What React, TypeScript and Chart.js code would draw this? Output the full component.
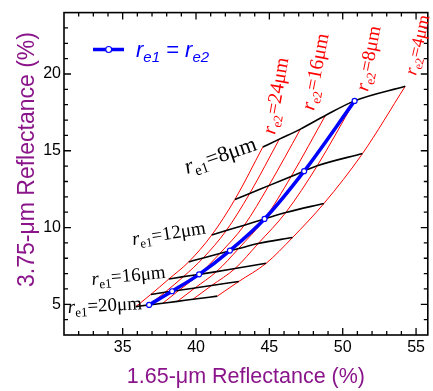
import React, { useEffect, useRef } from 'react';
import { Chart, registerables } from 'chart.js';

Chart.register(...registerables);

// r_e2 values along each r_e1 curve (left to right)
const re2Values = [24, 20, 16, 12, 8, 4];
// r_e1 values (top to bottom curves)
const re1Values = [8, 10, 12, 14, 16, 18, 20];

// 1.65-um reflectance (x) and 3.75-um reflectance (y) for each r_e1, ordered by re2Values
const x_re1_8 = [44.55, 45.68, 47.12, 48.82, 50.81, 54.26];
const y_re1_8 = [15.24, 15.76, 16.41, 17.3, 18.25, 19.2];
const x_re1_10 = [42.65, 43.66, 44.96, 46.48, 48.26, 51.35];
const y_re1_10 = [11.83, 12.22, 12.73, 13.32, 14.02, 14.82];
const x_re1_12 = [41.07, 42.06, 43.29, 44.67, 46.12, 48.72];
const y_re1_12 = [9.51, 9.8, 10.15, 10.56, 10.98, 11.57];
const x_re1_14 = [39.5, 40.49, 41.62, 42.9, 44.24, 46.58];
const y_re1_14 = [7.76, 8.02, 8.31, 8.63, 8.96, 9.35];
const x_re1_16 = [38.15, 39.14, 40.21, 41.4, 42.66, 44.78];
const y_re1_16 = [6.65, 6.8, 6.95, 7.13, 7.33, 7.67];
const x_re1_18 = [36.92, 37.88, 38.84, 39.92, 41.06, 42.92];
const y_re1_18 = [5.64, 5.78, 5.91, 6.06, 6.22, 6.49];
const x_re1_20 = [35.9, 36.8, 37.73, 38.73, 39.79, 41.45];
const y_re1_20 = [4.85, 4.96, 5.07, 5.19, 5.33, 5.53];

// r_e1 = r_e2 curve
const equalR = [20, 18, 16, 14, 12, 10, 8];
const equalX = [36.8, 38.37, 40.21, 42.31, 44.67, 47.37, 50.81];
const equalY = [4.96, 5.85, 6.95, 8.5, 10.56, 13.67, 18.25];

const xTickLabels = [35, 40, 45, 50, 55];
const yTickLabels = [5, 10, 15, 20];

const rowsX = [x_re1_8, x_re1_10, x_re1_12, x_re1_14, x_re1_16, x_re1_18, x_re1_20];
const rowsY = [y_re1_8, y_re1_10, y_re1_12, y_re1_14, y_re1_16, y_re1_18, y_re1_20];

const PURPLE = '#8a148a';
const SANS = '"Liberation Sans", Arial, sans-serif';
const SERIF = '"Liberation Serif", "Times New Roman", serif';

type Part = { text: string; font: string; dy: number };

function drawParts(ctx: CanvasRenderingContext2D, x: number, y: number, angleDeg: number, parts: Part[], color: string) {
  ctx.save();
  ctx.translate(x, y);
  ctx.rotate((angleDeg * Math.PI) / 180);
  ctx.fillStyle = color;
  ctx.textAlign = 'left';
  ctx.textBaseline = 'alphabetic';
  let cx = 0;
  for (const p of parts) {
    ctx.font = p.font;
    ctx.fillText(p.text, cx, p.dy);
    cx += ctx.measureText(p.text).width;
  }
  ctx.restore();
}

function rLabel(sub: string, value: string, size: number): Part[] {
  const subSize = Math.round(size * 0.66);
  return [
    { text: 'r', font: `italic ${size}px ${SERIF}`, dy: 0 },
    { text: sub, font: `${subSize}px ${SERIF}`, dy: size * 0.22 },
    { text: '=' + value + 'μm', font: `${size}px ${SERIF}`, dy: 0 },
  ];
}

const decorPlugin = {
  id: 'decor',
  afterDraw(chart: any) {
    const { ctx, chartArea: a, scales } = chart;
    const xs = scales.x;
    const ys = scales.y;
    ctx.save();
    // minor / major ticks (inward, all four sides)
    ctx.strokeStyle = '#000';
    ctx.lineWidth = 1.3;
    ctx.beginPath();
    for (let v = Math.ceil(xs.min); v <= Math.floor(xs.max); v++) {
      if (v <= xs.min || v >= xs.max) continue;
      const px = xs.getPixelForValue(v);
      const len = v % 5 === 0 ? 7 : 4;
      ctx.moveTo(px, a.bottom);
      ctx.lineTo(px, a.bottom - len);
      ctx.moveTo(px, a.top);
      ctx.lineTo(px, a.top + len);
    }
    for (let v = Math.ceil(ys.min); v <= Math.floor(ys.max); v++) {
      if (v <= ys.min || v >= ys.max) continue;
      const py = ys.getPixelForValue(v);
      const len = v % 5 === 0 ? 7 : 4;
      ctx.moveTo(a.left, py);
      ctx.lineTo(a.left + len, py);
      ctx.moveTo(a.right, py);
      ctx.lineTo(a.right - len, py);
    }
    ctx.stroke();
    // frame
    ctx.lineWidth = 1.6;
    ctx.strokeRect(a.left, a.top, a.right - a.left, a.bottom - a.top);

    // legend
    ctx.strokeStyle = '#0000ff';
    ctx.lineWidth = 3.5;
    ctx.beginPath();
    ctx.moveTo(93, 49.5);
    ctx.lineTo(124, 49.5);
    ctx.stroke();
    ctx.beginPath();
    ctx.arc(108.7, 49.5, 3, 0, Math.PI * 2);
    ctx.fillStyle = '#fff';
    ctx.fill();
    ctx.lineWidth = 1.2;
    ctx.stroke();
    drawParts(ctx, 136, 57, 0, [
      { text: 'r', font: `italic 22px ${SANS}`, dy: 0 },
      { text: 'e1', font: `italic 15px ${SANS}`, dy: 5 },
      { text: ' = ', font: `italic 22px ${SANS}`, dy: 0 },
      { text: 'r', font: `italic 22px ${SANS}`, dy: 0 },
      { text: 'e2', font: `italic 15px ${SANS}`, dy: 5 },
    ], '#0000ff');

    // r_e1 labels
    drawParts(ctx, 187, 174, -19, rLabel('e1', String(re1Values[0]), 22), '#000');
    drawParts(ctx, 133, 245, -9, rLabel('e1', String(re1Values[2]), 19), '#000');
    drawParts(ctx, 92, 285, -5.5, rLabel('e1', String(re1Values[4]), 19), '#000');
    drawParts(ctx, 68, 313, -3, rLabel('e1', String(re1Values[6]), 19), '#000');

    // r_e2 labels
    drawParts(ctx, 275, 135, -80, rLabel('e2', String(re2Values[0]), 20), '#ff0000');
    drawParts(ctx, 314, 111, -79, rLabel('e2', String(re2Values[2]), 20), '#ff0000');
    drawParts(ctx, 368, 92, -79, rLabel('e2', String(re2Values[4]), 19.5), '#ff0000');
    drawParts(ctx, 416, 76, -77, rLabel('e2', String(re2Values[5]), 18), '#ff0000');

    // axis titles
    ctx.fillStyle = PURPLE;
    ctx.textAlign = 'center';
    ctx.textBaseline = 'alphabetic';
    ctx.font = `21.5px ${SANS}`;
    ctx.fillText('1.65-μm Reflectance (%)', (a.left + a.right) / 2, 383);
    ctx.save();
    ctx.translate(33.5, 159.5);
    ctx.rotate(-Math.PI / 2);
    ctx.font = `23px ${SANS}`;
    ctx.fillText('3.75-μm Reflectance (%)', 0, 0);
    ctx.restore();

    ctx.restore();
  },
};

function buildDatasets() {
  const datasets: any[] = [];
  // blue r_e1 = r_e2 (on top)
  datasets.push({
    label: 're1 = re2',
    data: equalX.map((x, i) => ({ x, y: equalY[i], r: equalR[i] })),
    showLine: true,
    borderColor: '#0000ff',
    borderWidth: 3.5,
    pointRadius: 2.5,
    pointBackgroundColor: '#ffffff',
    pointBorderColor: '#0000ff',
    pointBorderWidth: 1.2,
    cubicInterpolationMode: 'monotone',
    fill: false,
  });
  // black constant r_e1 curves
  re1Values.forEach((r1, i) => {
    datasets.push({
      label: 're1=' + r1,
      data: rowsX[i].map((x, j) => ({ x, y: rowsY[i][j] })),
      showLine: true,
      borderColor: '#000000',
      borderWidth: 1.6,
      pointRadius: 0,
      cubicInterpolationMode: 'monotone',
      fill: false,
    });
  });
  // red constant r_e2 curves
  re2Values.forEach((r2, j) => {
    const pts = rowsX.map((row, i) => ({ x: row[j], y: rowsY[i][j] }));
    pts.sort((p, q) => p.x - q.x);
    datasets.push({
      label: 're2=' + r2,
      data: pts,
      showLine: true,
      borderColor: '#ff0000',
      borderWidth: 1,
      pointRadius: 0,
      cubicInterpolationMode: 'monotone',
      fill: false,
    });
  });
  return datasets;
}

export default function App() {
  const ref = useRef<HTMLCanvasElement>(null);
  useEffect(() => {
    if (!ref.current) return;
    const chart = new Chart(ref.current, {
      type: 'scatter',
      data: { datasets: buildDatasets() },
      options: {
        animation: false,
        responsive: false,
        devicePixelRatio: 1,
        layout: { padding: { left: 0, right: 1, top: 4, bottom: 0 } },
        plugins: { legend: { display: false }, tooltip: { enabled: false } },
        scales: {
          x: {
            type: 'linear',
            min: 31,
            max: 55.8,
            afterBuildTicks: (s: any) => {
              s.ticks = xTickLabels.map((v) => ({ value: v }));
            },
            afterFit: (s: any) => {
              s.height = 56;
            },
            grid: { display: false, drawTicks: false },
            border: { display: false },
            ticks: {
              autoSkip: false,
              maxRotation: 0,
              padding: 3,
              color: '#000',
              font: { family: SANS, size: 16 },
              callback: (v: any) => String(v),
            },
          },
          y: {
            type: 'linear',
            min: 3,
            max: 24,
            afterBuildTicks: (s: any) => {
              s.ticks = yTickLabels.map((v) => ({ value: v }));
            },
            afterFit: (s: any) => {
              s.width = 64;
            },
            grid: { display: false, drawTicks: false },
            border: { display: false },
            ticks: {
              autoSkip: false,
              padding: 3,
              color: '#000',
              font: { family: SANS, size: 16 },
              callback: (v: any) => String(v),
            },
          },
        },
      },
      plugins: [decorPlugin],
    } as any);
    return () => chart.destroy();
  }, []);
  return (
    <div style={{ position: 'absolute', left: 0, top: 0, width: 433, height: 391, background: '#fff' }}>
      <canvas ref={ref} width={433} height={391} style={{ display: 'block' }} />
    </div>
  );
}
